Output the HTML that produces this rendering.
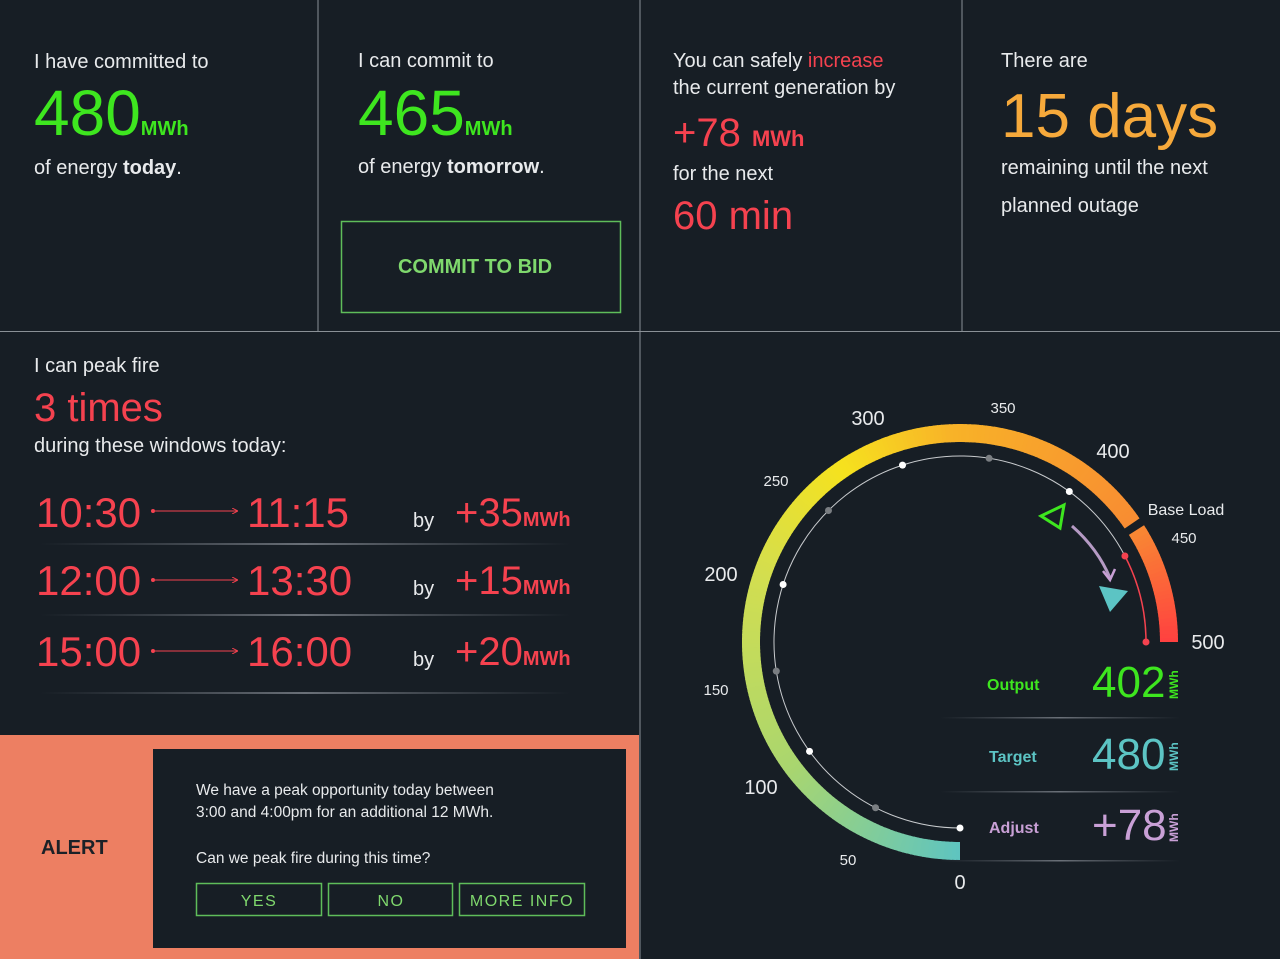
<!DOCTYPE html>
<html><head><meta charset="utf-8"><style>
html,body{margin:0;padding:0;background:#171e25;}
svg{display:block;font-family:"Liberation Sans",sans-serif;}
</style></head><body>
<svg id="s" width="1280" height="959" viewBox="0 0 1280 959" xmlns="http://www.w3.org/2000/svg">
<defs>
<linearGradient id="sep" x1="0" x2="1"><stop offset="0" stop-color="#5a6068" stop-opacity="0"/><stop offset="0.5" stop-color="#6a7078"/><stop offset="1" stop-color="#5a6068" stop-opacity="0"/></linearGradient>
<marker id="ar" markerWidth="6" markerHeight="6" refX="5" refY="3" orient="auto"><path d="M0,0 L6,3 L0,6" fill="none" stroke="#f5424f" stroke-width="1"/></marker>
</defs>
<rect width="1280" height="959" fill="#171e25"/>
<g stroke="#8a9096" stroke-width="1">
<line x1="318" y1="0" x2="318" y2="331"/><line x1="640" y1="0" x2="640" y2="959"/><line x1="962" y1="0" x2="962" y2="331"/><line x1="0" y1="331.5" x2="1280" y2="331.5"/>
</g>
<g fill="#e8eaec" font-size="20">
<text x="34" y="68">I have committed to</text>
<text x="34" y="174">of energy <tspan font-weight="bold">today</tspan>.</text>
<text x="358" y="67">I can commit to</text>
<text x="358" y="173">of energy <tspan font-weight="bold">tomorrow</tspan>.</text>
<text x="673" y="67">You can safely <tspan fill="#f5424f">increase</tspan></text>
<text x="673" y="94">the current generation by</text>
<text x="673" y="180">for the next</text>
<text x="1001" y="67">There are</text>
<text x="1001" y="174">remaining until the next</text>
<text x="1001" y="212">planned outage</text>
<text x="34" y="372">I can peak fire</text>
<text x="34" y="452">during these windows today:</text>
</g>
<text x="34" y="135" font-size="64" fill="#3ee61f">480<tspan font-size="20" font-weight="bold">MWh</tspan></text>
<text x="358" y="135" font-size="64" fill="#3ee61f">465<tspan font-size="20" font-weight="bold">MWh</tspan></text>
<rect x="341.5" y="221.5" width="279" height="91" fill="none" stroke="#5fbd5a" stroke-width="1.5"/>
<text x="475" y="273" text-anchor="middle" font-size="20" font-weight="bold" fill="#7fd86d">COMMIT TO BID</text>
<text x="673" y="146" font-size="40" fill="#f5424f">+78 <tspan font-size="22" font-weight="bold">MWh</tspan></text>
<text x="673" y="229" font-size="40" fill="#f5424f">60 min</text>
<text x="1001" y="137" font-size="62" fill="#f6a93b">15 days</text>
<text x="34" y="421" font-size="40" fill="#f5424f">3 times</text>
<g fill="#f5424f">
<text x="36" y="527" font-size="42">10:30</text><text x="247" y="527" font-size="42">11:15</text>
<text x="36" y="595" font-size="42">12:00</text><text x="247" y="595" font-size="42">13:30</text>
<text x="36" y="666" font-size="42">15:00</text><text x="247" y="666" font-size="42">16:00</text>
<text x="455" y="526" font-size="40">+35<tspan font-size="20" font-weight="bold">MWh</tspan></text>
<text x="455" y="594" font-size="40">+15<tspan font-size="20" font-weight="bold">MWh</tspan></text>
<text x="455" y="665" font-size="40">+20<tspan font-size="20" font-weight="bold">MWh</tspan></text>
<circle cx="153" cy="511" r="2"/><circle cx="153" cy="580" r="2"/><circle cx="153" cy="651" r="2"/>
</g>
<g stroke="#f5424f" stroke-width="1" marker-end="url(#ar)">
<line x1="155" y1="511" x2="237" y2="511"/><line x1="155" y1="580" x2="237" y2="580"/><line x1="155" y1="651" x2="237" y2="651"/>
</g>
<g fill="#e8eaec" font-size="20"><text x="413" y="527">by</text><text x="413" y="595">by</text><text x="413" y="666">by</text></g>
<g fill="url(#sep)"><rect x="40" y="543" width="530" height="2"/><rect x="40" y="614" width="530" height="2"/><rect x="40" y="692" width="530" height="2"/></g>
<rect x="0" y="735" width="639" height="224" fill="#ed7f62"/>
<text x="41" y="854" font-size="20" font-weight="bold" fill="#1b2127">ALERT</text>
<rect x="153" y="749" width="473" height="199" fill="#171e25"/>
<g fill="#e8eaec" font-size="15.5">
<text x="196" y="795">We have a peak opportunity today between</text>
<text x="196" y="817">3:00 and 4:00pm for an additional 12 MWh.</text>
<text x="196" y="863">Can we peak fire during this time?</text>
</g>
<g fill="none" stroke="#5fbd5a" stroke-width="1.5">
<rect x="196.5" y="883.5" width="125" height="32"/><rect x="328.5" y="883.5" width="124" height="32"/><rect x="459.5" y="883.5" width="125" height="32"/>
</g>
<g fill="#7fd86d" font-size="16" text-anchor="middle" letter-spacing="1.5">
<text x="259" y="906">YES</text><text x="391" y="906">NO</text><text x="522" y="906">MORE INFO</text>
</g>
<g id="arc"></g>
<g id="thin"></g>
<g fill="#e8eaec" text-anchor="middle">
<text x="868" y="425" font-size="20">300</text><text x="1003" y="413" font-size="15">350</text>
<text x="1113" y="458" font-size="20">400</text><text x="1186" y="515" font-size="16">Base Load</text>
<text x="1184" y="543" font-size="15">450</text><text x="1208" y="649" font-size="20">500</text>
<text x="776" y="486" font-size="15">250</text><text x="721" y="581" font-size="20">200</text>
<text x="716" y="695" font-size="15">150</text><text x="761" y="794" font-size="20">100</text>
<text x="848" y="865" font-size="15">50</text><text x="960" y="889" font-size="20">0</text>
</g>
<polygon points="1041,516 1064,505 1060,528" fill="none" stroke="#3ee61f" stroke-width="3" stroke-linejoin="miter"/>
<path d="M1072,526 Q1098,549 1110,578" fill="none" stroke="#b59ac4" stroke-width="3"/>
<path d="M1103,571 L1110,580 L1115,569" fill="none" stroke="#c9a0d6" stroke-width="2.5"/>
<polygon points="1099,586 1128,591 1110,612" fill="#5cc4c4"/>
<g fill="url(#sep)"><rect x="940" y="717" width="240" height="1.5"/><rect x="940" y="791" width="240" height="1.5"/><rect x="940" y="860" width="240" height="1.5"/></g>
<text x="987" y="690" font-size="16" font-weight="bold" fill="#3ee61f">Output</text>
<text x="1092" y="697" font-size="44" fill="#3ee61f">402</text>
<text transform="translate(1178,699) rotate(-90)" font-size="12" font-weight="bold" fill="#3ee61f">MWh</text>
<text x="989" y="762" font-size="16" font-weight="bold" fill="#5cc4c4">Target</text>
<text x="1092" y="769" font-size="44" fill="#5cc4c4">480</text>
<text transform="translate(1178,771) rotate(-90)" font-size="12" font-weight="bold" fill="#5cc4c4">MWh</text>
<text x="989" y="833" font-size="16" font-weight="bold" fill="#c9a0d6">Adjust</text>
<text x="1092" y="840" font-size="44" fill="#c9a0d6">+78</text>
<text transform="translate(1178,842) rotate(-90)" font-size="12" font-weight="bold" fill="#c9a0d6">MWh</text>
</svg>
<script>
(function(){
var NS="http://www.w3.org/2000/svg",cx=960,cy=642;
function pt(v,r){var a=(90+v/500*270)*Math.PI/180;return [cx+r*Math.cos(a),cy+r*Math.sin(a)];}
var stops=[[0,[94,196,192]],[100,[170,214,110]],[200,[210,222,80]],[270,[246,226,30]],[330,[248,178,40]],[437,[248,140,50]],[500,[255,64,64]]];
function col(v){for(var i=0;i<stops.length-1;i++){var a=stops[i],b=stops[i+1];if(v<=b[0]){var t=(v-a[0])/(b[0]-a[0]);return "rgb("+a[1].map(function(c,k){return Math.round(c+(b[1][k]-c)*t)}).join(",")+")";}}return "rgb(255,64,64)";}
var g=document.getElementById("arc"),R=209;
for(var v=0;v<500;v+=2){
 if(v>=436&&v<440)continue;
 var v2=Math.min(v+2.6,500);if(v<436&&v2>436)v2=436;
 var p1=pt(v,R),p2=pt(v2,R);
 var p=document.createElementNS(NS,"path");
 p.setAttribute("d","M"+p1[0]+","+p1[1]+" A"+R+","+R+" 0 0 1 "+p2[0]+","+p2[1]);
 p.setAttribute("stroke",col(v+1));p.setAttribute("stroke-width","18");p.setAttribute("fill","none");
 g.appendChild(p);}
var t=document.getElementById("thin"),r=186;
function arc(a,b,c,w){var p1=pt(a,r),p2=pt(b,r);var p=document.createElementNS(NS,"path");
 p.setAttribute("d","M"+p1[0]+","+p1[1]+" A"+r+","+r+" 0 "+((b-a)>333?1:0)+" 1 "+p2[0]+","+p2[1]);
 p.setAttribute("stroke",c);p.setAttribute("stroke-width",w);p.setAttribute("fill","none");t.appendChild(p);}
arc(0,449,"#c8cbce",1);arc(449,500,"#f5424f",1.5);
function dot(v,c,rr){var q=pt(v,r);var e=document.createElementNS(NS,"circle");e.setAttribute("cx",q[0]);e.setAttribute("cy",q[1]);e.setAttribute("r",rr);e.setAttribute("fill",c);t.appendChild(e);}
[0,100,200,300,400].forEach(function(v){dot(v,"#ffffff",3.5)});
[50,150,250,350].forEach(function(v){dot(v,"#7a7e82",3.5)});
dot(449,"#f5424f",3.5);dot(500,"#f5424f",3.5);
})();
</script>
</body></html>
